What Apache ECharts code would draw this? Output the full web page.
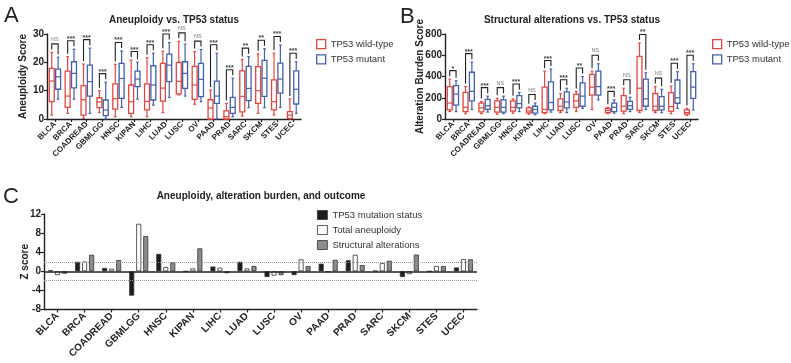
<!DOCTYPE html>
<html><head><meta charset="utf-8">
<script src="https://cdn.jsdelivr.net/npm/echarts@6/dist/echarts.min.js"></script>
<style>html,body{margin:0;padding:0;background:#fff}#c{width:791px;height:363px}</style>
</head><body><div id="c"></div>
<script>
const CATS = ['BLCA','BRCA','COADREAD','GBMLGG','HNSC','KIPAN','LIHC','LUAD','LUSC','OV','PAAD','PRAD','SARC','SKCM','STES','UCEC'];
// [min, q1, median, q3, max]
const A_WT = [[1.4,6.1,13.4,17.9,23.5],[2,4.1,8.1,16.9,22],[0.2,1.4,6.8,11.8,19.4],[2.3,4,6,7.5,10],[0.8,3.5,7.2,12.4,19.3],[0.8,2,6.1,12,20.8],[0.8,3.2,6.2,12.4,21.6],[2.3,6.3,10.9,19.6,23.9],[8.5,8.9,13.3,20,27.4],[5.2,6.9,12,18.6,23.8],[0,0,3.9,6.8,10.2],[0,0,0.8,2.9,5.5],[1,2.5,8,17,21],[2,5.5,10,18.5,23],[1.4,3.2,6.1,13.8,23.2],[0,0.2,1.4,2.6,7.1]];
const A_MUT = [[7,10.5,14.9,17.6,21.8],[7,11,16.1,20.2,24.6],[2,8.1,13.2,19,25],[0,1.2,3.2,6.7,13],[4.1,7.3,14.3,19.6,24],[7,11.4,14.1,16.9,20],[4.9,6.7,12,18.8,23.2],[7.6,13.2,19,22.9,27],[8.1,10.8,16.1,20.2,26.4],[6.1,7.9,14,19.6,24.5],[0,5.5,8.1,13.4,23.2],[0.8,2,4.1,7.6,14.4],[4,6.5,10.8,18.6,22],[4,8,14.4,20.7,24.8],[4.1,9.1,14.1,19.7,26.1],[2,5.3,10.5,17,20.2]];
const B_WT = [[70,85,150,305,375],[50,70,110,250,305],[50,68,105,150,165],[45,65,110,170,195],[55,75,110,170,190],[45,58,75,105,115],[50,60,90,300,450],[60,80,120,190,240],[70,110,170,235,260],[90,225,300,420,450],[50,60,80,100,110],[50,75,120,220,290],[60,80,290,590,715],[60,80,120,240,305],[50,75,116,248,310],[35,45,60,85,100]];
const B_MUT = [[70,130,235,315,360],[90,170,260,440,535],[65,90,125,185,215],[50,65,110,180,215],[70,105,145,220,250],[40,55,90,120,150],[65,85,155,350,470],[60,105,160,255,290],[100,120,215,340,400],[180,225,305,450,520],[55,70,110,150,180],[70,90,125,165,205],[90,120,190,375,435],[60,85,120,210,280],[100,148,200,367,445],[85,195,300,445,520]];
const SIG_A = ['NS','***','***','***','***','***','***','***','NS','NS','***','***','**','**','***','***'];
const SIG_B = ['*','***','***','NS','***','NS','***','***','**','NS','***','NS','**','NS','***','***'];
const C_MUT = [0.2,2.0,0.7,-5.1,3.65,0,1.0,2.0,-1.2,-0.8,1.6,2.3,0.1,-1.2,0,0.8];
const C_ANEU = [-0.8,2.05,0.55,9.95,0.9,0.6,0.75,0.6,-0.9,2.5,-0.2,3.45,1.75,-0.6,1.1,2.55];
const C_STRUCT = [-0.5,3.45,2.35,7.4,1.9,4.8,-0.4,1.1,-0.8,1.1,2.4,1.3,2.2,3.5,1.1,2.5];

const RED = '#e2463f', BLUE = '#4260ab', DARK = '#222';
const FONT = 'Liberation Sans, Arial, sans-serif';

function boxRender(side, color) {
  return function (params, api) {
    const cat = api.value(0);
    const c = api.coord([cat, 0]);
    const bw = api.size([1, 0])[0];
    const cx = c[0] + side * bw * 0.2;
    const w = bw * 0.31;
    const y = i => api.coord([cat, api.value(i)])[1];
    const ymin = y(1), q1 = y(2), med = y(3), q3 = y(4), ymax = y(5);
    const cap = w * 0.55;
    const st = {stroke: color, lineWidth: 1.2, fill: null};
    return {type: 'group', children: [
      {type: 'line', shape: {x1: cx, y1: ymax, x2: cx, y2: q3}, style: st},
      {type: 'line', shape: {x1: cx, y1: q1, x2: cx, y2: ymin}, style: st},
      {type: 'line', shape: {x1: cx - cap / 2, y1: ymax, x2: cx + cap / 2, y2: ymax}, style: st},
      {type: 'line', shape: {x1: cx - cap / 2, y1: ymin, x2: cx + cap / 2, y2: ymin}, style: st},
      {type: 'rect', shape: {x: cx - w / 2, y: q3, width: w, height: Math.max(q1 - q3, 0.5)}, style: {fill: '#fff', stroke: color, lineWidth: 1.3}},
      {type: 'line', shape: {x1: cx - w / 2, y1: med, x2: cx + w / 2, y2: med}, style: st}
    ]};
  };
}
function bracketRender(sig) {
  return function (params, api) {
    const cat = api.value(0);
    const cx = api.coord([cat, 0])[0];
    const bw = api.size([1, 0])[0];
    const xl = cx - bw * 0.2, xr = cx + bw * 0.2;
    const yl = api.coord([cat, api.value(1)])[1];
    const yr = api.coord([cat, api.value(2)])[1];
    const top = Math.min(yl, yr) - 8.5;
    const s = sig[params.dataIndex];
    return {type: 'group', children: [
      {type: 'polyline', shape: {points: [[xl, yl - 3], [xl, top], [xr, top], [xr, yr - 3]]}, style: {stroke: DARK, lineWidth: 1.1, fill: null}},
      {type: 'text', x: cx, y: s === 'NS' ? top - 1.5 : top + 1.5, style: {text: s, fill: s === 'NS' ? '#777' : '#444', font: (s === 'NS' ? '5.5px ' : 'bold 7px ') + FONT, textAlign: 'center', textVerticalAlign: 'bottom'}}
    ]};
  };
}
function boxData(arr) { return arr.map((d, i) => [i].concat(d)); }
function brData(wt, mut) { return CATS.map((c, i) => [i, wt[i][4], mut[i][4]]); }

const axisLine = {show: true, lineStyle: {color: DARK, width: 1.4}};
const axisTick = {show: true, length: 3, lineStyle: {color: DARK, width: 1.2}};
function catAxis(g, fs, margin) {
  return {type: 'category', gridIndex: g, data: CATS, axisLine: Object.assign({onZero: false}, axisLine),
    axisTick: Object.assign({alignWithLabel: true}, axisTick),
    axisLabel: {rotate: 45, interval: 0, fontSize: fs, fontWeight: 'bold', color: DARK, fontFamily: FONT, margin: margin}};
}
function valAxis(g, min, max, iv, name, gap) {
  return {type: 'value', gridIndex: g, min: min, max: max, interval: iv, splitLine: {show: false},
    axisLine: axisLine, axisTick: axisTick,
    axisLabel: {fontSize: 10, fontWeight: 'bold', color: DARK, fontFamily: FONT, margin: 3},
    name: name, nameLocation: 'middle', nameGap: gap, nameMoveOverlap: false,
    nameTextStyle: {fontSize: 10, fontWeight: 'bold', color: DARK, fontFamily: FONT}};
}
const legendBox = (left) => ({left: left, top: 34, orient: 'vertical', itemWidth: 9, itemHeight: 9, itemGap: 5,
  textStyle: {fontSize: 9.5, color: '#333', fontFamily: FONT}, selectedMode: false,
  data: [{name: 'TP53 wild-type', icon: 'rect', itemStyle: {color: '#fff', borderColor: RED, borderWidth: 1.3}},
         {name: 'TP53 mutant', icon: 'rect', itemStyle: {color: '#fff', borderColor: BLUE, borderWidth: 1.3}}]});

const barStyle = (c) => ({color: c, borderColor: '#333', borderWidth: 0.8});

const option = {
  animation: false,
  textStyle: {fontFamily: FONT},
  grid: [
    {left: 47, right: 490, top: 34, bottom: 244, outerBoundsMode: 'none', containLabel: false},
    {left: 445, right: 93, top: 34, bottom: 244, outerBoundsMode: 'none', containLabel: false},
    {left: 44, right: 314, top: 214, bottom: 53.5, outerBoundsMode: 'none', containLabel: false}
  ],
  xAxis: [catAxis(0, 8, 4), catAxis(1, 8, 4), catAxis(2, 10, 5)],
  yAxis: [valAxis(0, 0, 30, 10, 'Aneuploidy Score', 19), valAxis(1, 0, 800, 200, 'Alteration Burden Score', 20), valAxis(2, -8, 12, 4, 'Z score', 14)],
  legend: [legendBox(311), legendBox(707),
    {left: 312, top: 205, orient: 'vertical', itemWidth: 10, itemHeight: 9, itemGap: 5, selectedMode: false,
     textStyle: {fontSize: 9.5, color: '#333', fontFamily: FONT},
     data: [{name: 'TP53 mutation status', icon: 'rect', itemStyle: barStyle('#1c1c1c')},
            {name: 'Total aneuploidy', icon: 'rect', itemStyle: barStyle('#ffffff')},
            {name: 'Structural alterations', icon: 'rect', itemStyle: barStyle('#8c8c8c')}]}],
  graphic: [
    {type: 'text', x: 4, y: 16, style: {text: 'A', font: '22px ' + FONT, fill: DARK, textVerticalAlign: 'middle'}},
    {type: 'text', x: 400, y: 17, style: {text: 'B', font: '22px ' + FONT, fill: DARK, textVerticalAlign: 'middle'}},
    {type: 'text', x: 3, y: 197, style: {text: 'C', font: '22px ' + FONT, fill: DARK, textVerticalAlign: 'middle'}},
    {type: 'text', x: 174, y: 20, style: {text: 'Aneuploidy vs. TP53 status', font: 'bold 10px ' + FONT, fill: DARK, textAlign: 'center', textVerticalAlign: 'middle'}},
    {type: 'text', x: 572, y: 20, style: {text: 'Structural alterations vs. TP53 status', font: 'bold 10px ' + FONT, fill: DARK, textAlign: 'center', textVerticalAlign: 'middle'}},
    {type: 'text', x: 261, y: 196, style: {text: 'Aneuploidy, alteration burden, and outcome', font: 'bold 10px ' + FONT, fill: DARK, textAlign: 'center', textVerticalAlign: 'middle'}}
  ],
  series: [
    {type: 'custom', name: 'TP53 wild-type', xAxisIndex: 0, yAxisIndex: 0, data: boxData(A_WT), renderItem: boxRender(-1, RED), encode: {x: 0, y: [1, 2, 3, 4, 5]}, itemStyle: {color: RED}},
    {type: 'custom', name: 'TP53 mutant', xAxisIndex: 0, yAxisIndex: 0, data: boxData(A_MUT), renderItem: boxRender(1, BLUE), encode: {x: 0, y: [1, 2, 3, 4, 5]}, itemStyle: {color: BLUE}},
    {type: 'custom', xAxisIndex: 0, yAxisIndex: 0, data: brData(A_WT, A_MUT), renderItem: bracketRender(SIG_A), encode: {x: 0, y: [1, 2]}, silent: true},
    {type: 'custom', name: 'TP53 wild-type', xAxisIndex: 1, yAxisIndex: 1, data: boxData(B_WT), renderItem: boxRender(-1, RED), encode: {x: 0, y: [1, 2, 3, 4, 5]}, itemStyle: {color: RED}},
    {type: 'custom', name: 'TP53 mutant', xAxisIndex: 1, yAxisIndex: 1, data: boxData(B_MUT), renderItem: boxRender(1, BLUE), encode: {x: 0, y: [1, 2, 3, 4, 5]}, itemStyle: {color: BLUE}},
    {type: 'custom', xAxisIndex: 1, yAxisIndex: 1, data: brData(B_WT, B_MUT), renderItem: bracketRender(SIG_B), encode: {x: 0, y: [1, 2]}, silent: true},
    {type: 'bar', name: 'TP53 mutation status', xAxisIndex: 2, yAxisIndex: 2, data: C_MUT, barWidth: 5, barGap: '40%', itemStyle: barStyle('#1c1c1c'),
     markLine: {silent: true, symbol: 'none', label: {show: false},
       data: [{yAxis: 0, lineStyle: {color: DARK, width: 1.5, type: 'solid'}},
              {yAxis: 1.96, lineStyle: {color: '#999', width: 1, type: 'dotted'}},
              {yAxis: -1.96, lineStyle: {color: '#999', width: 1, type: 'dotted'}}]}},
    {type: 'bar', name: 'Total aneuploidy', xAxisIndex: 2, yAxisIndex: 2, data: C_ANEU, barWidth: 5, barGap: '40%', itemStyle: barStyle('#ffffff')},
    {type: 'bar', name: 'Structural alterations', xAxisIndex: 2, yAxisIndex: 2, data: C_STRUCT, barWidth: 5, barGap: '40%', itemStyle: barStyle('#8c8c8c')}
  ]
};
const chart = echarts.init(document.getElementById('c'), null, {renderer: 'canvas'});
chart.setOption(option);
</script></body></html>
